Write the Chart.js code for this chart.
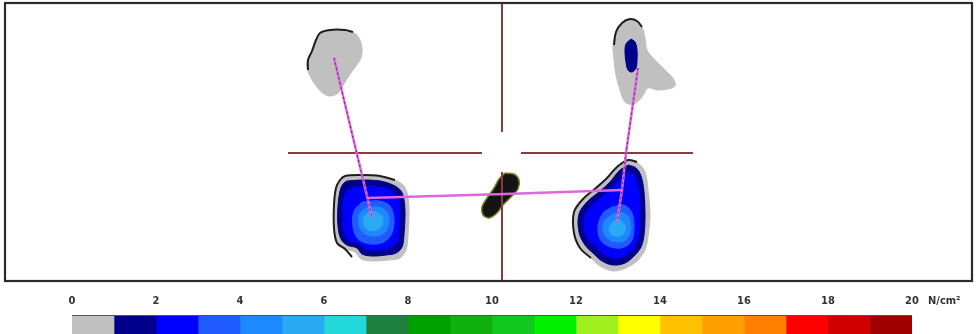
<!DOCTYPE html>
<html>
<head>
<meta charset="utf-8">
<script src="https://cdn.jsdelivr.net/npm/chart.js@4.4.1/dist/chart.umd.min.js"></script>
<style>
  html, body { margin: 0; padding: 0; background: #fff; }
  canvas { display: block; }
</style>
</head>
<body>
<canvas id="plate" width="977" height="284"></canvas>
<canvas id="scale" width="977" height="50"></canvas>
<script>
// pressure scale in N/cm2, one colour per 1 N/cm2 step
const scaleTicks = [0, 2, 4, 6, 8, 10, 12, 14, 16, 18, 20];
const scaleColors = [
    '#c0c0c0', '#00008b', '#0000ff', '#1f5bff', '#1e88ff',
    '#2aaaf2', '#22d8d8', '#1f7f3f', '#00a000', '#10b010',
    '#10c820', '#00f000', '#a0f020', '#ffff00', '#ffc000',
    '#ffa000', '#ff8000', '#ff0000', '#d00000', '#a00000',
];

// contour outlines on the plate (x right, y down), level = index into scaleColors
const leftFore = [[320,33],[330,30],[345,30],[353,32],[359,38],[362,48],[361,58],[356,66],[350,74],[344,84],[338,93],[331,96],[324,94],[317,87],[311,78],[307,68],[308,60],[312,51],[316,40],[320,33]];
const leftForeEdge = [[308,70],[308,60],[312,51],[316,40],[320,33],[330,30],[345,30],[353,32]];

const rightFore = [[630,19],[637,21],[642,27],[645,38],[647,50],[655,60],[665,70],[674,80],[675,86],[668,89],[657,90],[648,88],[642,97],[634,104],[625,102],[620,90],[616,75],[614,60],[613,45],[616,32],[622,23],[630,19]];
const rightForeEdge = [[614,45],[616,32],[622,23],[630,19],[637,21],[642,27]];
const rightForeL1 = [[631,39],[635,42],[637,50],[637,60],[636,68],[632,72],[628,70],[626,62],[625,52],[626,44],[631,39]];

const leftHeel = [[345,176],[362,175],[380,176],[395,180],[404,186],[408,197],[409,215],[408,235],[406,250],[400,258],[388,260],[372,261],[361,259],[355,252],[345,249],[337,243],[334,228],[334,205],[336,188],[340,180],[345,176]];
const leftHeelEdge = [[352,257],[345,249],[337,243],[334,228],[334,205],[336,188],[340,180],[345,176],[362,175],[380,176],[395,180]];
const leftHeelL1 = [[347,181],[362,180],[380,181],[393,185],[401,191],[404,200],[405,215],[404,234],[402,247],[396,253],[386,255],[372,256],[362,254],[357,248],[347,245],[341,239],[338,226],[338,206],[340,191],[343,184],[347,181]];
const leftHeelL2 = [[352,188],[365,186],[380,187],[392,191],[398,198],[400,212],[399,230],[397,242],[390,248],[378,250],[366,249],[358,243],[348,240],[344,232],[343,215],[344,198],[347,191],[352,188]];
const leftHeelL3 = [[362,202],[380,201],[390,206],[394,219],[392,233],[384,242],[370,244],[358,239],[353,227],[354,211],[362,202]];
const leftHeelL4 = [[366,208],[379,207],[387,212],[389,222],[385,232],[376,236],[365,234],[359,226],[359,215],[366,208]];
const leftHeelL5 = [[368,213],[376,212],[382,217],[382,225],[377,230],[369,230],[364,225],[364,217],[368,213]];

const rightHeel = [[628,160],[638,163],[645,172],[648,190],[650,215],[648,237],[645,250],[637,261],[626,268],[613,271],[600,266],[591,258],[580,248],[574,233],[574,212],[583,199],[596,188],[607,178],[617,167],[628,160]];
const rightHeelEdge = [[591,258],[580,248],[574,233],[574,212],[583,199],[596,188],[607,178],[617,167],[628,160],[637,162]];
const rightHeelL1 = [[628,165],[636,168],[641,176],[644,192],[645,215],[644,235],[641,247],[634,256],[625,263],[613,265],[602,261],[594,254],[585,245],[579,232],[579,214],[587,202],[599,192],[610,182],[619,171],[628,165]];
const rightHeelL2 = [[628,172],[635,177],[639,192],[640,215],[639,233],[636,244],[629,253],[619,258],[607,256],[598,249],[589,240],[584,228],[585,215],[592,205],[603,196],[614,186],[622,177],[628,172]];
const rightHeelL3 = [[612,207],[624,205],[632,213],[634,228],[631,242],[621,248],[608,246],[600,239],[598,226],[603,213],[612,207]];
const rightHeelL4 = [[613,214],[624,213],[630,221],[630,233],[624,241],[612,241],[604,234],[604,222],[613,214]];
const rightHeelL5 = [[614,221],[621,221],[625,226],[624,233],[618,236],[611,234],[609,228],[614,221]];

// black marker in the middle of the plate
const marker = [[505,173],[514,174],[519,180],[518,189],[511,197],[503,205],[497,213],[489,218],[483,215],[482,207],[487,198],[494,188],[499,179],[505,173]];

// plate axes (cross with an open centre)
const crossTop = [[502,3],[502,132]];
const crossBottom = [[502,172],[502,281]];
const crossLeft = [[288,153],[482,153]];
const crossRight = [[521,153],[693,153]];

// centre of pressure lines
const copLeft = [[334,58],[372,217]];
const copRight = [[638,68],[626,153],[622,190],[617,222]];
const copCross = [[367,198],[505,194],[622,190]];

function toXY(points) {
    return points.map(p => ({ x: p[0], y: p[1] }));
}

function area(points, level) {
    const c = scaleColors[level];
    return {
        data: toXY(points),
        backgroundColor: c,
        borderColor: c,
        borderWidth: 1,
        fill: 'shape',
        tension: 0.35,
        pointRadius: 0,
    };
}

function path(points, color, width, dash, tension) {
    return {
        data: toXY(points),
        borderColor: color,
        borderWidth: width,
        borderDash: dash || [],
        fill: false,
        tension: tension || 0,
        pointRadius: 0,
    };
}

// listed bottom to top, reversed before handing to Chart.js
const layers = [
    area(leftFore, 0),
    path(leftForeEdge, '#1e1e1e', 2, null, 0.35),
    area(rightFore, 0),
    path(rightForeEdge, '#1e1e1e', 2, null, 0.35),
    area(rightForeL1, 1),
    area(leftHeel, 0),
    path(leftHeelEdge, '#1e1e1e', 2, null, 0.35),
    area(leftHeelL1, 1),
    area(leftHeelL2, 2),
    area(leftHeelL3, 3),
    area(leftHeelL4, 4),
    area(leftHeelL5, 5),
    area(rightHeel, 0),
    path(rightHeelEdge, '#1e1e1e', 2, null, 0.35),
    area(rightHeelL1, 1),
    area(rightHeelL2, 2),
    area(rightHeelL3, 3),
    area(rightHeelL4, 4),
    area(rightHeelL5, 5),
    Object.assign(area(marker, 0), { backgroundColor: '#141414', borderColor: '#7d7a2c', borderWidth: 1.5, tension: 0.3 }),
    path(crossTop, '#8c3b3b', 2),
    path(crossBottom, '#8c3b3b', 2),
    path(crossLeft, '#8c3b3b', 2),
    path(crossRight, '#8c3b3b', 2),
    path(copLeft, '#e066e0', 2.5),
    path(copRight, '#e066e0', 2.5),
    path(copCross, '#e066e0', 2.5),
    path(copLeft, '#5a2a5a', 1, [2, 3]),
    path(copRight, '#5a2a5a', 1, [2, 3]),
];

const framePlugin = {
    id: 'frame',
    afterDraw(chart) {
        const { ctx, chartArea: a } = chart;
        ctx.save();
        ctx.strokeStyle = '#2b2b2b';
        ctx.lineWidth = 2.2;
        ctx.strokeRect(a.left, a.top, a.right - a.left, a.bottom - a.top);
        ctx.restore();
    },
};

new Chart('plate', {
    type: 'line',
    data: { datasets: layers.reverse() },
    options: {
        responsive: false,
        animation: false,
        events: [],
        layout: { padding: { left: 5, right: 5, top: 3, bottom: 3 } },
        scales: {
            x: { type: 'linear', min: 5, max: 972, display: false },
            y: { type: 'linear', min: 3, max: 281, reverse: true, display: false },
        },
        plugins: { legend: { display: false }, tooltip: { enabled: false } },
    },
    plugins: [framePlugin],
});

const labelFont = { family: 'DejaVu Sans Condensed', size: 11, weight: 'bold' };

const unitPlugin = {
    id: 'unit',
    afterDraw(chart) {
        const { ctx } = chart;
        const x = chart.scales.x;
        ctx.save();
        ctx.font = 'bold 11px "DejaVu Sans Condensed"';
        ctx.fillStyle = '#333';
        ctx.textBaseline = 'middle';
        ctx.fillText('N/cm²', x.getPixelForValue(20) + 16, 17);
        ctx.strokeStyle = '#555';
        ctx.lineWidth = 1;
        const a = chart.chartArea;
        ctx.beginPath();
        ctx.moveTo(a.left, a.top + 0.5);
        ctx.lineTo(a.right, a.top + 0.5);
        ctx.stroke();
        ctx.restore();
    },
};

new Chart('scale', {
    type: 'bar',
    data: {
        labels: [''],
        datasets: scaleColors.map(c => ({
            data: [1],
            backgroundColor: c,
            borderWidth: 0,
            barPercentage: 1,
            categoryPercentage: 1,
        })),
    },
    options: {
        indexAxis: 'y',
        responsive: false,
        animation: false,
        events: [],
        layout: { padding: { left: 72, right: 65, top: 0, bottom: 0 } },
        scales: {
            x: {
                type: 'linear',
                position: 'top',
                stacked: true,
                min: 0,
                max: 20,
                afterBuildTicks: s => { s.ticks = scaleTicks.map(v => ({ value: v })); },
                afterFit: s => { s.height = 31; },
                ticks: { padding: 7, color: '#333', font: labelFont, maxRotation: 0 },
                grid: { display: false, drawTicks: false },
                border: { display: false },
            },
            y: { stacked: true, display: false },
        },
        plugins: { legend: { display: false }, tooltip: { enabled: false } },
    },
    plugins: [unitPlugin],
});
</script>
</body>
</html>
